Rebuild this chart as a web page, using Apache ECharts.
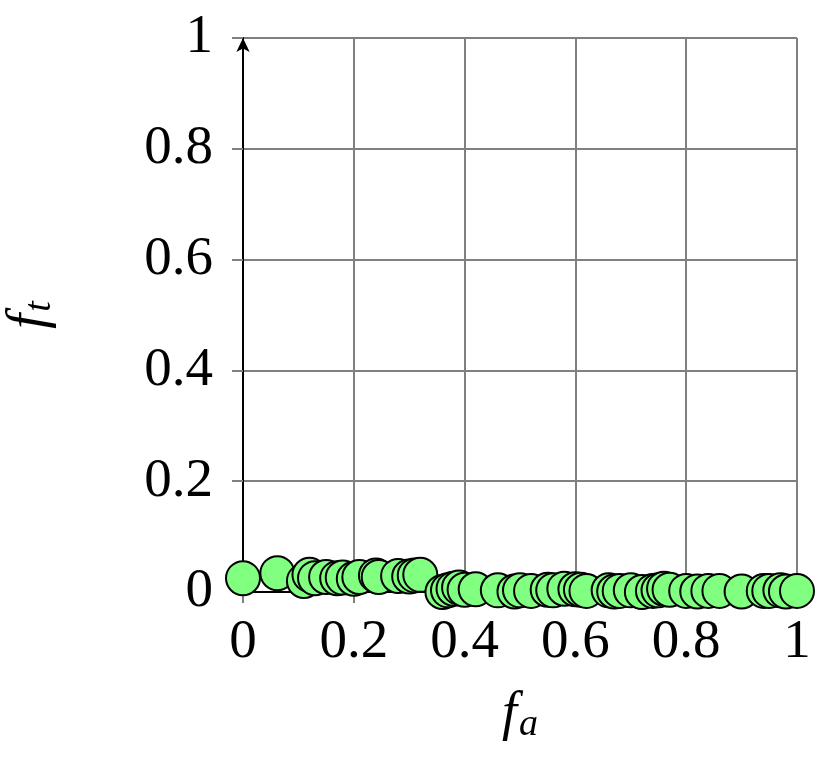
<!DOCTYPE html>
<html>
<head>
<meta charset="utf-8">
<script src="https://cdn.jsdelivr.net/npm/echarts@6/dist/echarts.min.js"></script>
<style>
  html, body { margin: 0; padding: 0; background: #fff; }
  #main { width: 832px; height: 768px; }
</style>
</head>
<body>
<div id="main"></div>
<script>
// f_a values (x) and f_t values (y)
var faValues = [
  0.0, 0.062, 0.11, 0.12, 0.13, 0.15, 0.17, 0.18, 0.2, 0.21, 0.24, 0.245, 0.28, 0.3, 0.31, 0.32,
  0.36, 0.37, 0.38, 0.39, 0.40, 0.42, 0.46, 0.49, 0.5, 0.52, 0.55, 0.56, 0.58, 0.6, 0.61, 0.62,
  0.66, 0.67, 0.68, 0.7, 0.72, 0.74, 0.75, 0.76, 0.77, 0.8, 0.82, 0.84, 0.86, 0.9, 0.94, 0.95,
  0.97, 0.98, 1.0
];
var ftValues = [
  0.025, 0.034, 0.02, 0.031, 0.025, 0.027, 0.025, 0.026, 0.024, 0.027, 0.03, 0.027, 0.029, 0.028, 0.03, 0.031,
  0.0, 0.003, 0.006, 0.008, 0.004, 0.005, 0.003, 0.001, 0.003, 0.002, 0.004, 0.003, 0.006, 0.005, 0.004, 0.002,
  0.003, 0.001, 0.002, 0.003, 0.0, 0.002, 0.003, 0.006, 0.004, 0.002, 0.001, 0.002, 0.002, 0.001, 0.002, 0.002,
  0.003, 0.001, 0.002
];
var tickLabels = ["0", "0.2", "0.4", "0.6", "0.8", "1"];

var points = [];
for (var i = 0; i < faValues.length; i++) {
  points.push([faValues[i], ftValues[i]]);
}

var serif = "Liberation Serif";
var gridColor = "#808080";

function tickFmt(v) {
  var idx = Math.round(v / 0.2);
  return tickLabels[idx];
}

var nameRich = {
  f: { fontFamily: serif, fontStyle: "italic", fontSize: 54, color: "#000" },
  s: { fontFamily: serif, fontStyle: "italic", fontSize: 38, color: "#000", padding: [20, 0, 0, 2] }
};

var myChart = echarts.init(document.getElementById("main"));
var option = {
  animation: false,
  grid: { left: 243, right: 35, top: 38, bottom: 176, outerBoundsMode: "none", containLabel: false },
  xAxis: {
    type: "value",
    min: 0, max: 1, interval: 0.2,
    name: "{f|f}{s|a}",
    nameLocation: "middle",
    nameGap: 94,
    nameTextStyle: { rich: nameRich },
    axisLine: { show: true, lineStyle: { color: "#000", width: 2 } },
    axisTick: { show: true, inside: false, length: 11, lineStyle: { color: gridColor, width: 2 } },
    axisLabel: { formatter: tickFmt, fontFamily: serif, fontSize: 55, color: "#000", margin: 23 },
    splitLine: { show: true, lineStyle: { color: gridColor, width: 2 } }
  },
  yAxis: {
    type: "value",
    min: 0, max: 1, interval: 0.2,
    name: "{f|f}{s|t}",
    nameLocation: "middle",
    nameGap: 184,
    nameRotate: 90,
    nameTextStyle: { rich: nameRich },
    axisLine: { show: true, lineStyle: { color: "#000", width: 2 }, symbol: ["none", "arrow"], symbolSize: [10, 14] },
    axisTick: { show: true, inside: false, length: 11, lineStyle: { color: gridColor, width: 2 } },
    axisLabel: { formatter: tickFmt, fontFamily: serif, fontSize: 55, color: "#000", margin: 30 },
    splitLine: { show: true, lineStyle: { color: gridColor, width: 2 } }
  },
  series: [
    {
      type: "scatter",
      data: points,
      symbol: "circle",
      symbolSize: 34,
      clip: false,
      itemStyle: { color: "#80ff80", borderColor: "#000", borderWidth: 2, opacity: 1 }
    }
  ]
};
myChart.setOption(option);
</script>
</body>
</html>
